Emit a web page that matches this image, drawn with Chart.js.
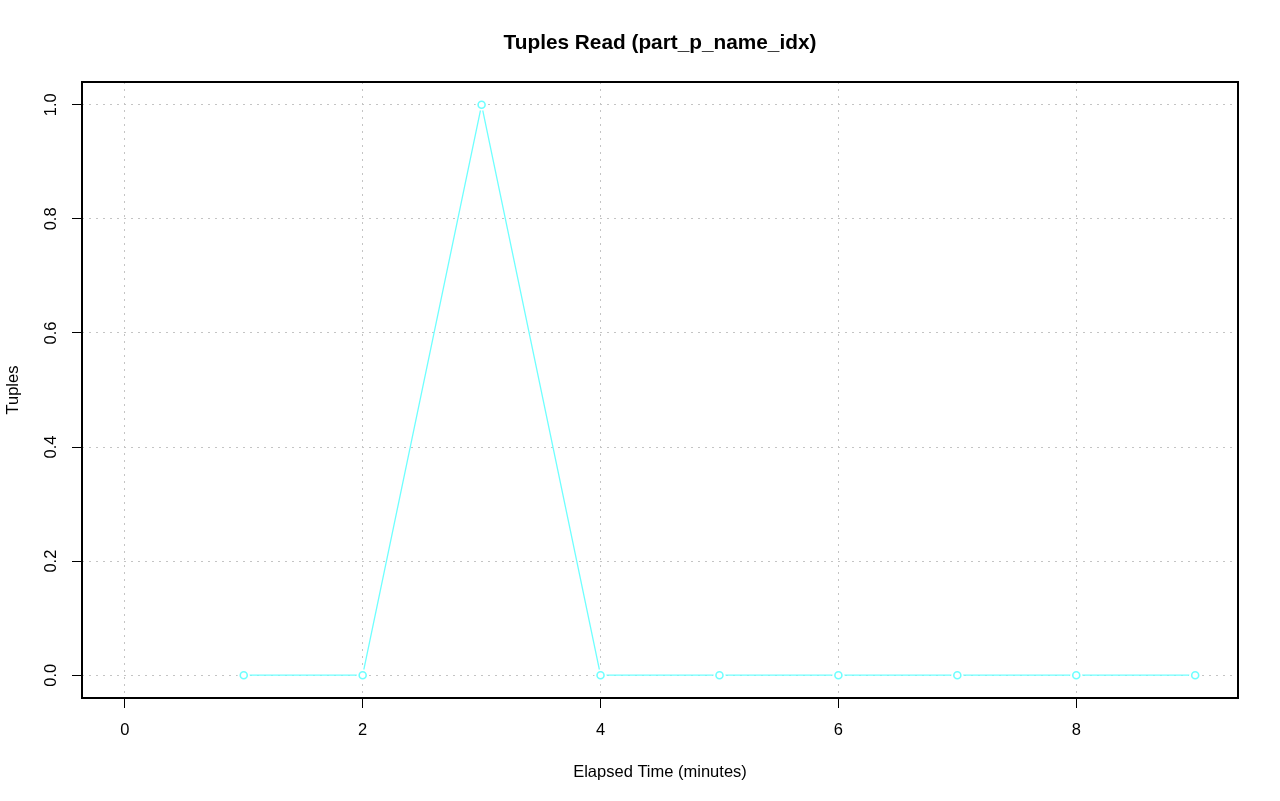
<!DOCTYPE html>
<html><head><meta charset="utf-8">
<script src="https://cdn.jsdelivr.net/npm/chart.js@4.4.1/dist/chart.umd.min.js"></script>
<style>html,body{margin:0;padding:0;background:#fff}</style>
</head><body>
<canvas id="c" width="1280" height="801"></canvas>
<script>
const chartTitle = 'Tuples Read (part_p_name_idx)';
const xTitle = 'Elapsed Time (minutes)';
const yTitle = 'Tuples';
const minutes = [1, 2, 3, 4, 5, 6, 7, 8, 9];
const tuples = [0, 0, 1, 0, 0, 0, 0, 0, 0];
const xTicks = [0, 2, 4, 6, 8];
const yTicks = [0, 0.2, 0.4, 0.6, 0.8, 1.0];
const xRange = [-0.36, 9.36];
const yRange = [-0.04, 1.04];

const FONT = '"Liberation Sans", Arial, Helvetica, sans-serif';
const lineColor = 'rgb(110,255,255)';
const pts = minutes.map((m, i) => ({x: m, y: tuples[i]}));

const boxAndTitle = {
  id: 'boxAndTitle',
  afterDatasetsDraw(chart) {
    const {ctx, chartArea: a} = chart;
    ctx.save();
    ctx.strokeStyle = '#000';
    ctx.lineWidth = 2;
    ctx.strokeRect(a.left, a.top, a.right - a.left, a.bottom - a.top);
    ctx.fillStyle = '#000';
    ctx.font = 'bold 20.8px ' + FONT;
    ctx.textAlign = 'center';
    ctx.textBaseline = 'middle';
    ctx.fillText(chartTitle, (a.left + a.right) / 2, 43);
    ctx.restore();
  }
};

new Chart(document.getElementById('c'), {
  type: 'scatter',
  data: {
    datasets: [
      {data: pts, showLine: true, borderColor: lineColor, borderWidth: 1.3, pointRadius: 0, order: 3},
      {data: pts, showLine: false, pointRadius: 6, pointBackgroundColor: '#fff', pointBorderWidth: 0, pointBorderColor: '#fff', order: 2},
      {data: pts, showLine: false, pointRadius: 3.5, pointBackgroundColor: 'rgba(0,0,0,0)', pointBorderColor: lineColor, pointBorderWidth: 1.6, order: 1}
    ]
  },
  options: {
    responsive: false,
    animation: false,
    devicePixelRatio: 1,
    layout: {padding: {top: 82, right: 42, left: 0, bottom: 0}},
    plugins: {legend: {display: false}, tooltip: {enabled: false}, title: {display: false}},
    scales: {
      x: {
        type: 'linear', min: xRange[0], max: xRange[1],
        afterBuildTicks: s => { s.ticks = xTicks.map(v => ({value: v})); },
        afterFit: s => { s.height = 103; },
        ticks: {color: '#000', font: {family: FONT, size: 16.5}, padding: 13, callback: v => String(v), maxRotation: 0},
        grid: {color: '#c4c4c4', lineWidth: 1, tickColor: '#000', tickLength: 10, tickWidth: 1},
        border: {display: false, dash: [2, 5]},
        title: {display: true, text: xTitle, color: '#000', font: {family: FONT, size: 16.5}, padding: {top: 0, bottom: 19}}
      },
      y: {
        type: 'linear', min: yRange[0], max: yRange[1],
        afterBuildTicks: s => { s.ticks = yTicks.map(v => ({value: v})); },
        afterFit: s => { s.width = 82; },
        ticks: {color: '#000', font: {family: FONT, size: 16.5}, padding: 9, minRotation: 90, maxRotation: 90, crossAlign: 'center', callback: v => v.toFixed(1)},
        grid: {color: '#c4c4c4', lineWidth: 1, tickColor: '#000', tickLength: 10, tickWidth: 1},
        border: {display: false, dash: [2, 5]},
        title: {display: true, text: yTitle, color: '#000', font: {family: FONT, size: 16.5}, padding: {top: 4, bottom: 0}}
      }
    }
  },
  plugins: [boxAndTitle]
});
</script>
</body></html>
